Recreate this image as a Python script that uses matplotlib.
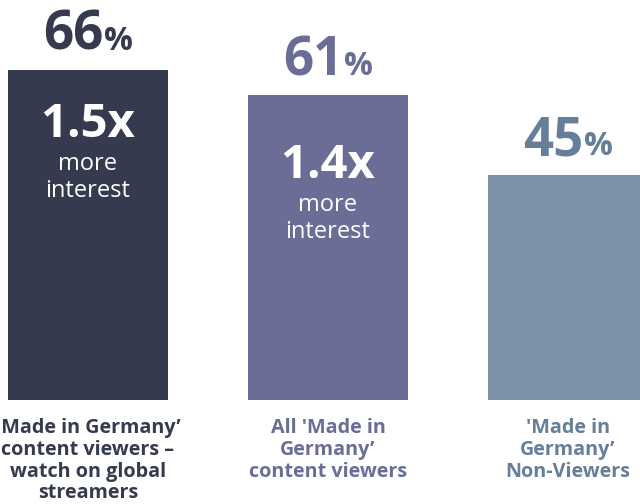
import matplotlib
matplotlib.use("Agg")
import matplotlib.pyplot as plt
from matplotlib.transforms import offset_copy

# ---------------------------------------------------------------------------
# Data
# ---------------------------------------------------------------------------
categories = [
    "'Made in Germany\u2019\ncontent viewers \u2013\nwatch on global\nstreamers",
    "All 'Made in\nGermany\u2019\ncontent viewers",
    "'Made in\nGermany\u2019\nNon-Viewers",
]
values = [66, 61, 45]
multipliers = ["1.5x", "1.4x", None]
mult_caption = ["more", "interest"]

# ---------------------------------------------------------------------------
# Style / layout
# ---------------------------------------------------------------------------
BAR_COLORS = ["#363A4F", "#6A6E96", "#7C91A6"]
TEXT_COLORS = ["#363A4F", "#6A6E96", "#657F99"]
FONT = "Open Sans"
MULT_Y = [52.6, 44.4, None]      # baseline of the "1.5x" line, in data units
CAPTION_GAP = [6.6, 12.0]        # baseline drops for "more" / "interest"

plt.rcParams["font.family"] = [FONT, "DejaVu Sans"]

fig = plt.figure(figsize=(6.4, 5.04), dpi=100)
ax = fig.add_axes([0, 104 / 504, 1, 400 / 504])
ax.set_xlim(-88 / 240, 552 / 240)
ax.set_ylim(0, 80)
ax.axis("off")

x = list(range(len(values)))
ax.bar(x, values, width=160 / 240, color=BAR_COLORS, zorder=2)

fig.canvas.draw()
renderer = fig.canvas.get_renderer()

for i, v in enumerate(values):
    # value label: big number + smaller percent sign, centred as a group
    t_num = ax.text(i, v + 4, str(v), ha="left", va="baseline",
                    fontsize=38, fontweight="bold", color=TEXT_COLORS[i])
    t_pct = ax.text(i, v + 4, "%", ha="left", va="baseline",
                    fontsize=23, fontweight="bold", color=TEXT_COLORS[i])
    w_num = t_num.get_window_extent(renderer).width
    w_pct = t_pct.get_window_extent(renderer).width
    total = w_num + w_pct
    t_num.set_transform(offset_copy(ax.transData, fig, x=-total / 2, y=0, units="dots"))
    t_pct.set_transform(offset_copy(ax.transData, fig, x=-total / 2 + w_num, y=0, units="dots"))

    # multiplier inside the bar
    if multipliers[i]:
        y0 = MULT_Y[i]
        ax.text(i, y0, multipliers[i], ha="center", va="baseline",
                fontsize=34, fontweight="bold", color="white", zorder=3)
        for cap, gap in zip(mult_caption, CAPTION_GAP):
            ax.text(i, y0 - gap, cap, ha="center", va="baseline",
                    fontsize=17, color="white", zorder=3)

    # category label below the bar
    ax.text(i, -3.6, categories[i], ha="center", va="top",
            fontsize=14.2, fontweight="bold", color=TEXT_COLORS[i],
            linespacing=1.12, clip_on=False)

fig.savefig("out.png", dpi=100, facecolor="white")
plt.close(fig)
